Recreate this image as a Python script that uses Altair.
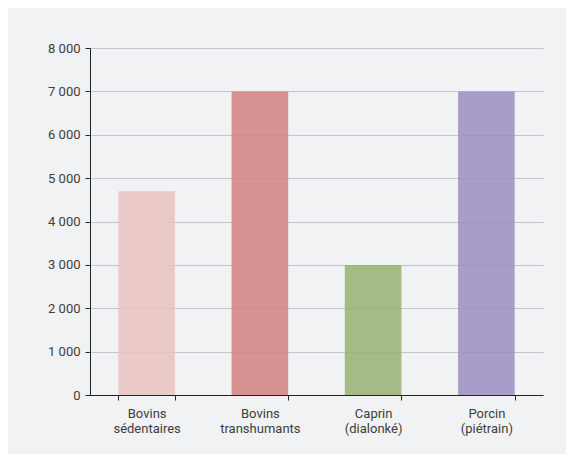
import altair as alt
import pandas as pd

categories = ["Bovins\nsédentaires", "Bovins\ntranshumants", "Caprin\n(dialonké)", "Porcin\n(piétrain)"]
values = [4700, 7000, 3000, 7000]
colors = ["#ebc2c1", "#d1817e", "#96b171", "#9b8dbf"]

df = pd.DataFrame({"cat": categories, "val": values})

font = "Roboto, sans-serif"

chart = alt.Chart(df).mark_bar(opacity=0.85).encode(
    x=alt.X("cat:N", sort=categories, title=None,
            scale=alt.Scale(paddingInner=0.5, paddingOuter=0.25),
            axis=alt.Axis(labelAngle=0, tickBand="extent", domainColor="#222222",
                          tickColor="#222222", tickSize=5, labelFont=font, labelFontSize=13,
                          labelColor="#3d3d3d", labelPadding=7, labelLineHeight=15,
                          labelExpr="split(datum.label, '\\n')", grid=False)),
    y=alt.Y("val:Q", title=None,
            scale=alt.Scale(domain=[0, 8000]),
            axis=alt.Axis(values=[0, 1000, 2000, 3000, 4000, 5000, 6000, 7000, 8000],
                          labelExpr="replace(format(datum.value, ','), ',', ' ')",
                          domainColor="#222222", tickColor="#222222", tickSize=5,
                          labelFont=font, labelFontSize=13, labelColor="#3d3d3d",
                          labelPadding=5, gridColor="#c4c5c8", gridWidth=1)),
    color=alt.Color("cat:N", sort=categories, scale=alt.Scale(domain=categories, range=colors), legend=None),
).properties(
    width=453, height=347,
    padding={"left": 82, "top": 40, "right": 23, "bottom": 59},
    autosize=alt.AutoSizeParams(type="none"),
    background="#f1f2f4",
).configure_view(stroke=None)

chart.save("out.html", embed_options={"renderer": "svg", "actions": False})
